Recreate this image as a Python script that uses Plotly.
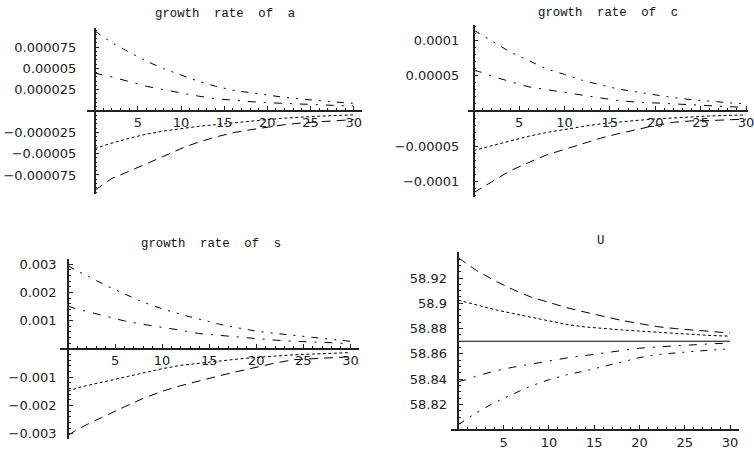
import plotly.graph_objects as go

W, H = 754, 454

# time grid shared by every panel
T = [0, 1, 2, 4, 6, 8, 10, 12, 14, 16, 18, 20, 22, 24, 26, 28, 30]

# growth rate of a
A1 = [9.4e-5, 8.7e-5, 8.0e-5, 6.9e-5, 5.85e-5, 4.95e-5, 4.2e-5, 3.5e-5, 2.9e-5,
      2.45e-5, 2.15e-5, 1.85e-5, 1.6e-5, 1.4e-5, 1.2e-5, 1.05e-5, 0.9e-5]
A2 = [4.45e-5, 4.25e-5, 4.0e-5, 3.45e-5, 2.9e-5, 2.5e-5, 2.1e-5, 1.75e-5, 1.45e-5,
      1.25e-5, 1.1e-5, 0.98e-5, 0.88e-5, 0.8e-5, 0.72e-5, 0.65e-5, 0.58e-5]
A3 = [-4.4e-5, -4.05e-5, -3.75e-5, -3.2e-5, -2.7e-5, -2.35e-5, -2.05e-5, -1.8e-5, -1.6e-5,
      -1.38e-5, -1.18e-5, -1.0e-5, -0.84e-5, -0.7e-5, -0.6e-5, -0.52e-5, -0.45e-5]
A4 = [-9.3e-5, -8.6e-5, -7.9e-5, -7.05e-5, -6.2e-5, -5.3e-5, -4.4e-5, -3.65e-5, -3.05e-5,
      -2.55e-5, -2.2e-5, -1.9e-5, -1.6e-5, -1.4e-5, -1.25e-5, -1.12e-5, -1.0e-5]

# growth rate of c
C1 = [11.5e-5, 10.7e-5, 9.9e-5, 8.4e-5, 7.2e-5, 6.0e-5, 5.2e-5, 4.35e-5, 3.7e-5,
      3.1e-5, 2.7e-5, 2.3e-5, 1.9e-5, 1.62e-5, 1.35e-5, 1.18e-5, 1.0e-5]
C2 = [5.8e-5, 5.45e-5, 4.95e-5, 4.2e-5, 3.45e-5, 3.05e-5, 2.65e-5, 2.15e-5, 1.85e-5,
      1.48e-5, 1.26e-5, 1.15e-5, 1.0e-5, 0.9e-5, 0.7e-5, 0.58e-5, 0.5e-5]
C3 = [-5.6e-5, -5.25e-5, -4.9e-5, -4.2e-5, -3.6e-5, -3.05e-5, -2.6e-5, -2.2e-5, -1.82e-5,
      -1.55e-5, -1.33e-5, -1.13e-5, -0.97e-5, -0.82e-5, -0.7e-5, -0.62e-5, -0.56e-5]
C4 = [-11.6e-5, -10.8e-5, -10.1e-5, -8.5e-5, -7.35e-5, -6.25e-5, -5.45e-5, -4.65e-5, -3.85e-5,
      -3.2e-5, -2.6e-5, -2.05e-5, -1.6e-5, -1.4e-5, -1.35e-5, -1.25e-5, -1.15e-5]

# growth rate of s
S1 = [2.95e-3, 2.75e-3, 2.6e-3, 2.25e-3, 1.95e-3, 1.65e-3, 1.42e-3, 1.22e-3, 1.05e-3,
      0.88e-3, 0.75e-3, 0.63e-3, 0.55e-3, 0.48e-3, 0.40e-3, 0.32e-3, 0.27e-3]
S2 = [1.52e-3, 1.4e-3, 1.33e-3, 1.16e-3, 0.99e-3, 0.87e-3, 0.77e-3, 0.66e-3, 0.54e-3,
      0.48e-3, 0.43e-3, 0.37e-3, 0.31e-3, 0.27e-3, 0.25e-3, 0.22e-3, 0.18e-3]
S3 = [-1.5e-3, -1.38e-3, -1.3e-3, -1.15e-3, -1.0e-3, -0.84e-3, -0.7e-3, -0.58e-3, -0.5e-3,
      -0.42e-3, -0.36e-3, -0.3e-3, -0.25e-3, -0.21e-3, -0.18e-3, -0.15e-3, -0.13e-3]
S4 = [-3.06e-3, -2.85e-3, -2.68e-3, -2.36e-3, -2.05e-3, -1.75e-3, -1.5e-3, -1.3e-3, -1.12e-3,
      -0.96e-3, -0.8e-3, -0.65e-3, -0.5e-3, -0.38e-3, -0.34e-3, -0.32e-3, -0.28e-3]

# utility U
U1 = [58.936, 58.931, 58.926, 58.918, 58.911, 58.905, 58.9005, 58.8965, 58.893,
      58.8895, 58.8865, 58.884, 58.8815, 58.880, 58.879, 58.8775, 58.8765]
U2 = [58.9025, 58.9005, 58.8985, 58.895, 58.892, 58.889, 58.8858, 58.8832, 58.8813,
      58.880, 58.879, 58.878, 58.877, 58.876, 58.8752, 58.8745, 58.874]
U3 = [58.838, 58.8398, 58.8425, 58.8463, 58.8494, 58.852, 58.8546, 58.8568, 58.8587,
      58.8605, 58.8625, 58.8645, 58.8655, 58.8665, 58.867, 58.868, 58.8685]
U4 = [58.804, 58.809, 58.8135, 58.8215, 58.828, 58.8346, 58.8395, 58.8435, 58.8465,
      58.850, 58.854, 58.857, 58.8595, 58.861, 58.862, 58.863, 58.864]
U_STEADY = [58.87, 58.87]
T_STEADY = [0, 30]

X_TICKS = [5, 10, 15, 20, 25, 30]
X_TICK_TEXT = ["5", "10", "15", "20", "25", "30"]

A_TICKS = [-7.5e-5, -5e-5, -2.5e-5, 2.5e-5, 5e-5, 7.5e-5]
A_TICK_TEXT = ["\u22120.000075", "\u22120.00005", "\u22120.000025", "0.000025", "0.00005", "0.000075"]
C_TICKS = [-1e-4, -5e-5, 5e-5, 1e-4]
C_TICK_TEXT = ["\u22120.0001", "\u22120.00005", "0.00005", "0.0001"]
S_TICKS = [-3e-3, -2e-3, -1e-3, 1e-3, 2e-3, 3e-3]
S_TICK_TEXT = ["\u22120.003", "\u22120.002", "\u22120.001", "0.001", "0.002", "0.003"]
U_TICKS = [58.82, 58.84, 58.86, 58.88, 58.9, 58.92]
U_TICK_TEXT = ["58.82", "58.84", "58.86", "58.88", "58.9", "58.92"]

TITLES = ["growth  rate  of  a", "growth  rate  of  c", "growth  rate  of  s", "U"]

# dash styles: dash-dot-dot, dash-dot, fine dash, long dash
DASH_DDOT = "7px,7px,2px,7px,2px,7px"
DASH_DOT = "8px,8px,2px,8px"
DASH_FINE = "3px,2.5px"
DASH_LONG = "9px,6px"
GROWTH_DASHES = [DASH_DDOT, DASH_DOT, DASH_FINE, DASH_LONG]
U_DASHES = [DASH_LONG, DASH_FINE, DASH_DOT, DASH_DDOT]

TICK_FONT = dict(family="DejaVu Sans", size=13, color="#222222")
TITLE_FONT = dict(family="Liberation Mono", size=12.3, color="#111111")
AXIS_COLOR = "#222222"

# panel geometry in pixels: axis line spans, origin and scale
PANELS = [
    dict(series=[A1, A2, A3, A4], dashes=GROWTH_DASHES, xpx=(88, 365), x0=95.5, xs=8.7,
         ypx=(26, 194), y0px=110, yzero=0.0, ys=21.5 / 2.5e-5, ystand=15,
         yt=A_TICKS, ytt=A_TICK_TEXT, ym=5e-6, ym0=0.0, xaxis_at=0.0, title=(227, 12)),
    dict(series=[C1, C2, C3, C4], dashes=GROWTH_DASHES, xpx=(472, 754), x0=477.5, xs=9.15,
         ypx=(23, 197), y0px=110, yzero=0.0, ys=35.5 / 5e-5, ystand=11,
         yt=C_TICKS, ytt=C_TICK_TEXT, ym=1e-5, ym0=0.0, xaxis_at=0.0, title=(613, 11)),
    dict(series=[S1, S2, S3, S4], dashes=GROWTH_DASHES, xpx=(60, 362), x0=68.5, xs=9.49,
         ypx=(259, 441), y0px=350, yzero=0.0, ys=28.5 / 1e-3, ystand=8,
         yt=S_TICKS, ytt=S_TICK_TEXT, ym=2e-4, ym0=0.0, xaxis_at=0.0, title=(213, 244)),
    dict(series=[U1, U2, U3, U4], dashes=U_DASHES, xpx=(455, 745), x0=462, xs=9.13,
         ypx=(252, 432), y0px=406, yzero=58.82, ys=25.5 / 0.02, ystand=8,
         yt=U_TICKS, ytt=U_TICK_TEXT, ym=0.005, ym0=58.8, xaxis_at=None, title=(605, 241)),
]

fig = go.Figure()
layout = dict(
    width=W, height=H, margin=dict(l=0, r=0, t=0, b=0),
    paper_bgcolor="white", plot_bgcolor="white", showlegend=False,
)

annotations = []
for i, p in enumerate(PANELS):
    k = "" if i == 0 else str(i + 1)
    xr = [(p["xpx"][0] - p["x0"]) / p["xs"], (p["xpx"][1] - p["x0"]) / p["xs"]]
    ytop = p["yzero"] + (p["y0px"] - p["ypx"][0]) / p["ys"]
    ybot = p["yzero"] - (p["ypx"][1] - p["y0px"]) / p["ys"]

    if i == 3:
        fig.add_trace(go.Scatter(
            x=T_STEADY, y=U_STEADY, mode="lines", xaxis="x4", yaxis="y4",
            line=dict(color="black", width=1), hoverinfo="skip",
        ))
    for s, dash in zip(p["series"], p["dashes"]):
        fig.add_trace(go.Scatter(
            x=T, y=s, mode="lines", xaxis="x" + k, yaxis="y" + k,
            line=dict(color="black", width=1, dash=dash), hoverinfo="skip",
        ))

    if p["xaxis_at"] is None:
        xpos_px = p["ypx"][1]
    else:
        xpos_px = p["y0px"] - (p["xaxis_at"] - p["yzero"]) * p["ys"]

    layout["xaxis" + k] = dict(
        domain=[p["xpx"][0] / W, p["xpx"][1] / W], range=xr,
        anchor="free", position=1 - xpos_px / H,
        showgrid=False, zeroline=False, showline=True, linecolor=AXIS_COLOR, linewidth=1.5,
        tickmode="array", tickvals=X_TICKS, ticktext=X_TICK_TEXT,
        ticks="inside", ticklen=4, tickwidth=1, tickcolor=AXIS_COLOR,
        tickfont=TICK_FONT, ticklabelstandoff=0, ticklabeloverflow="allow",
        minor=dict(ticks="inside", ticklen=2, tickwidth=1, tickcolor=AXIS_COLOR,
                   tickmode="linear", tick0=0, dtick=1, showgrid=False),
    )
    layout["yaxis" + k] = dict(
        domain=[1 - p["ypx"][1] / H, 1 - p["ypx"][0] / H], range=[ybot, ytop],
        anchor="free", position=p["x0"] / W,
        showgrid=False, zeroline=False, showline=True, linecolor=AXIS_COLOR, linewidth=1.5,
        tickmode="array", tickvals=p["yt"], ticktext=p["ytt"],
        ticks="inside", ticklen=4, tickwidth=1, tickcolor=AXIS_COLOR,
        tickfont=TICK_FONT, ticklabelstandoff=p["ystand"], ticklabeloverflow="allow",
        minor=dict(ticks="inside", ticklen=2, tickwidth=1, tickcolor=AXIS_COLOR,
                   tickmode="linear", tick0=p["ym0"], dtick=p["ym"], showgrid=False),
    )

    tx, ty = p["title"]
    annotations.append(dict(
        text=TITLES[i].replace(" ", "\u00a0"), xref="paper", yref="paper",
        x=tx / W, y=1 - ty / H, xanchor="center", yanchor="middle",
        showarrow=False, font=TITLE_FONT,
    ))

layout["annotations"] = annotations
fig.update_layout(**layout)
fig.write_html("out.html")
